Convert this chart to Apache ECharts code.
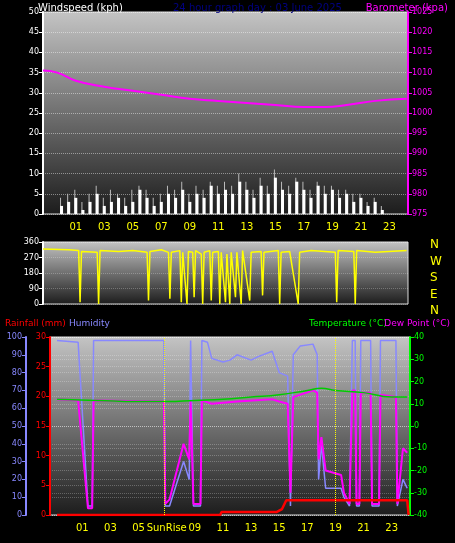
<!DOCTYPE html>
<html><head><meta charset="utf-8">
<script src="https://cdn.jsdelivr.net/npm/echarts@6/dist/echarts.min.js"></script>
<style>html,body{margin:0;background:#000}#c{width:455px;height:543px}</style>
</head><body><div id="c"></div>
<script>
var hourTicks = [1, 3, 5, 7, 9, 11, 13, 15, 17, 19, 21, 23]
var windHours = [0,0.5,1,1.5,2,2.5,3,3.5,4,4.5,5,5.5,6,6.5,7,7.5,8,8.5,9,9.5,10,10.5,11,11.5,12,12.5,13,13.5,14,14.5,15,15.5,16,16.5,17,17.5,18,18.5,19,19.5,20,20.5,21,21.5,22,22.5,23,23.5]
var windSpeed = [2,3,4,1,3,5,2,3,4,2,3,6,4,2,3,5,4,6,3,5,4,7,5,6,5,8,6,4,7,5,9,6,5,8,6,4,7,5,6,4,5,3,4,2,3,1,0,0]
var windGust = [4,5,6,3,5,7,4,6,5,4,6,7,6,4,5,7,6,8,5,7,6,8,7,8,7,10,8,6,9,7,11,8,7,9,8,6,8,7,7,6,6,5,5,3,4,2,0,0]
var baro = [[-1.3,1010.5],[-0.3,1010],[1,1008],[3,1006.5],[5,1005.5],[7,1004.5],[9,1003.5],[11,1003],[13,1002.5],[15,1002],[17,1001.5],[18.5,1001.5],[20,1002],[22,1003],[24.2,1003.5]]
var direction = [[-1.3,320],[0.5,315],[1.2,310],[1.3,10],[1.4,305],[2.5,300],[2.6,0],[2.7,310],[4,305],[5,310],[6,300],[6.1,20],[6.2,305],[7,315],[7.5,300],[7.6,30],[7.7,300],[8.3,310],[8.4,10],[8.5,300],[8.8,0],[8.9,305],[9.2,300],[9.3,40],[9.4,310],[9.8,290],[9.9,0],[10,300],[10.4,310],[10.5,20],[10.6,300],[11,305],[11.1,0],[11.2,300],[11.5,10],[11.6,290],[11.8,0],[11.9,300],[12.2,40],[12.3,300],[12.6,0],[12.7,310],[13.2,20],[13.3,300],[14,305],[14.1,50],[14.2,300],[15.2,310],[15.3,0],[15.4,300],[16,305],[16.6,0],[16.7,300],[17.5,310],[19.2,300],[19.3,10],[19.4,310],[20.5,305],[20.6,0],[20.7,310],[22,300],[24.2,310]]
var humidity = [[-0.8,98],[0.7,97],[1.4,5],[1.7,5],[1.8,98],[6.8,98],[6.9,5],[7.2,5],[8.2,30],[8.6,20],[8.7,98],[8.8,98],[8.9,5],[9.4,5],[9.5,98],[9.9,97],[10.2,88],[11,86],[11.5,87],[12,90],[13,87],[13.5,89],[14.5,92],[15,80],[15.6,78],[15.8,5],[16,90],[16.5,95],[17.4,96],[17.7,90],[17.8,20],[18,40],[18.3,15],[19.4,15],[19.6,10],[20,5],[20.2,98],[20.4,98],[20.5,5],[20.7,5],[20.8,98],[21.5,98],[21.6,5],[22.1,5],[22.2,98],[23.3,98],[23.4,5],[23.8,20],[24.1,15]]
var dewPoint = [[-0.8,12],[0.7,11.5],[1.4,-37],[1.7,-37],[1.8,11.5],[6.8,11],[6.9,-35],[7.2,-33],[8.2,-8],[8.6,-15],[8.7,11.5],[8.8,11.5],[8.9,-35],[9.4,-35],[9.5,11.5],[10.2,10],[12,11],[14.5,12],[15,11],[15.6,10],[15.8,-30],[16,13],[17.4,16],[17.7,15],[17.8,-15],[18,-5],[18.3,-20],[19.4,-22],[19.6,-30],[20,-35],[20.2,16],[20.4,16],[20.5,-35],[20.7,-35],[20.8,15],[21.5,15],[21.6,-35],[22.1,-35],[22.2,14],[23.3,13],[23.4,-35],[23.8,-10],[24.1,-12]]
var temperature = [[-0.8,12],[2,11.5],[5,11],[7,11],[9,11.5],[11,12],[13,13],[15,14],[17,16],[18,17],[19,16],[21,15],[23,13],[24.1,13]]
var rainfall = [[-0.8,0],[10.8,0],[10.9,0.5],[14.8,0.5],[15.2,1],[15.5,2.5],[24.1,2.5],[24.2,0]]

var chart = echarts.init(document.getElementById('c'))
var bg = new echarts.graphic.LinearGradient(0, 0, 0, 1, [{offset: 0, color: '#c4c4c4'}, {offset: 1, color: '#1c1c1c'}])
var gridBase = {show: true, backgroundColor: bg, borderColor: '#ddd', borderWidth: 1}
var split = {show: true, lineStyle: {color: 'rgba(255,255,255,0.25)', type: 'dotted'}}
function xAx(idx, labels) {
    return {
        type: 'value', gridIndex: idx, min: -1.3, max: 24.3,
        axisLine: {show: false},
        axisTick: {show: false},
        splitLine: {show: false},
        axisLabel: {show: labels, color: '#ffff00', fontSize: 10, customValues: hourTicks,
            formatter: function (v) { if (idx === 2 && v === 7) return 'SunRise'; return (v < 10 ? '0' : '') + v }}
    }
}
function yAx(idx, min, max, step, color, pos, offset) {
    return {
        type: 'value', gridIndex: idx, min: min, max: max, interval: step, position: pos, offset: offset || 0,
        axisLine: {show: true, onZero: false, lineStyle: {color: color, width: 2}},
        axisTick: {show: true, length: 4, lineStyle: {color: color}},
        axisLabel: {color: color, fontSize: 8, margin: 4, formatter: function (v) { return String(v) }},
        splitLine: split
    }
}
var ts = function (c, s) { return {color: c, fontSize: s || 10, fontWeight: 'normal'} }
var option = {
    backgroundColor: '#000',
    animation: false,
    textStyle: {fontFamily: 'DejaVu Sans'},
    title: [
        {text: 'Windspeed (kph)', left: 33, top: -2, textStyle: ts('#fff')},
        {text: '24 hour graph day : 03 June 2025', left: 168, top: -2, textStyle: ts('#000080')},
        {text: 'Barometer (kpa)', right: 2, top: -2, textStyle: ts('#ff00ff')},
        {text: 'Rainfall (mm)', left: 0, top: 314, textStyle: ts('#ff0000', 9)},
        {text: 'Humidity', left: 64, top: 314, textStyle: ts('#8888ff', 9)},
        {text: 'Temperature (°C)', left: 304, top: 314, textStyle: ts('#00ff00', 9)},
        {text: 'Dew Point (°C)', right: 0, top: 314, textStyle: ts('#ff00ff', 9)},
        {text: 'N\nW\nS\nE\nN', left: 425, top: 232, textStyle: {color: '#ffff00', fontSize: 12, fontWeight: 'normal', lineHeight: 16.5}}
    ],
    grid: [
        Object.assign({left: 43, right: 47, top: 12, height: 202}, gridBase),
        Object.assign({left: 43, right: 47, top: 242, height: 62}, gridBase),
        Object.assign({left: 50, right: 45, top: 337, height: 178}, gridBase)
    ],
    xAxis: [xAx(0, true), xAx(1, false), xAx(2, true)],
    yAxis: [
        yAx(0, 0, 50, 5, '#ffffff', 'left'),
        yAx(0, 975, 1025, 5, '#ff00ff', 'right'),
        yAx(1, 0, 360, 90, '#ffffff', 'left'),
        yAx(2, 0, 100, 10, '#8888ff', 'left', 24),
        yAx(2, 0, 30, 5, '#ff0000', 'left'),
        yAx(2, -40, 40, 10, '#00ff00', 'right')
    ],
    series: [
        {type: 'bar', xAxisIndex: 0, yAxisIndex: 0, barWidth: 1, barGap: '-100%', itemStyle: {color: '#bbbbbb'},
            data: windHours.map(function (h, i) { return [h, windGust[i]] })},
        {type: 'bar', xAxisIndex: 0, yAxisIndex: 0, barWidth: 3, itemStyle: {color: '#ffffff'},
            data: windHours.map(function (h, i) { return [h, windSpeed[i]] })},
        {type: 'line', xAxisIndex: 0, yAxisIndex: 1, data: baro, smooth: true, showSymbol: false, lineStyle: {color: '#ff00ff', width: 2}},
        {type: 'line', xAxisIndex: 1, yAxisIndex: 2, data: direction, showSymbol: false, lineStyle: {color: '#ffff00', width: 1.5}},
        {type: 'line', xAxisIndex: 2, yAxisIndex: 3, data: humidity, showSymbol: false, lineStyle: {color: '#8888ff', width: 1.5},
            markLine: {symbol: 'none', silent: true, label: {show: false}, lineStyle: {color: '#ffff00', type: 'dotted', width: 1},
                data: [{xAxis: 6.8}, {xAxis: 19}]}},
        {type: 'line', xAxisIndex: 2, yAxisIndex: 5, data: dewPoint, showSymbol: false, lineStyle: {color: '#ff00ff', width: 2}},
        {type: 'line', xAxisIndex: 2, yAxisIndex: 5, data: temperature, smooth: true, showSymbol: false, lineStyle: {color: '#00cc00', width: 1.5}},
        {type: 'line', xAxisIndex: 2, yAxisIndex: 4, data: rainfall, showSymbol: false, lineStyle: {color: '#ff0000', width: 2.5}}
    ]
}
chart.setOption(option)
</script></body></html>
